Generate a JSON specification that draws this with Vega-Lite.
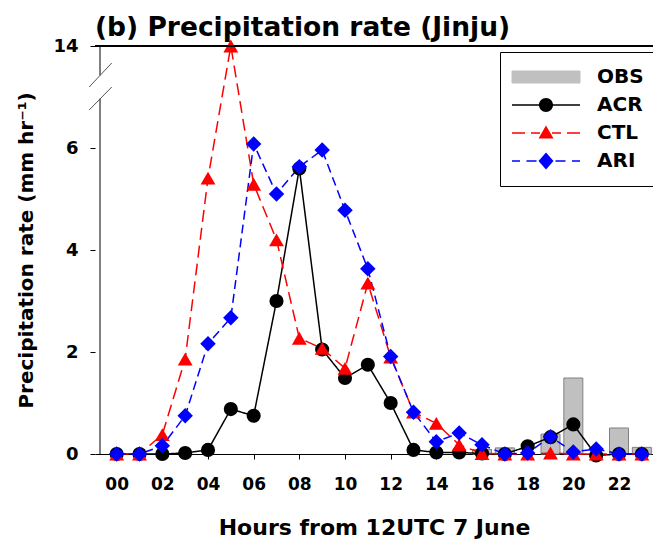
{
  "$schema": "https://vega.github.io/schema/vega-lite/v6.json",
  "autosize": "none",
  "padding": {"left": 95, "top": 46, "right": 0, "bottom": 90},
  "width": 558,
  "height": 408,
  "background": "white",
  "config": {
    "view": {"stroke": null},
    "font": "DejaVu Sans",
    "axis": {"grid": false, "labelFont": "DejaVu Sans", "labelFontWeight": "bold", "labelFontSize": 18, "labelColor": "black", "titleFont": "DejaVu Sans", "titleFontWeight": "bold", "titleFontSize": 20, "titleColor": "black", "tickColor": "black", "domainColor": "black", "tickSize": 5}
  },
  "title": {"text": "(b) Precipitation rate (Jinju)", "anchor": "start", "frame": "group", "font": "DejaVu Sans", "fontSize": 26.5, "fontWeight": "bold", "color": "black", "offset": -4},
  "data": {"values": [
    {"hour": 0, "value": 0, "series": "ACR"}, {"hour": 1, "value": 0, "series": "ACR"}, {"hour": 2, "value": 0, "series": "ACR"}, {"hour": 3, "value": 0.02, "series": "ACR"}, {"hour": 4, "value": 0.08, "series": "ACR"}, {"hour": 5, "value": 0.88, "series": "ACR"}, {"hour": 6, "value": 0.75, "series": "ACR"}, {"hour": 7, "value": 3.0, "series": "ACR"}, {"hour": 8, "value": 5.6, "series": "ACR"}, {"hour": 9, "value": 2.05, "series": "ACR"}, {"hour": 10, "value": 1.49, "series": "ACR"}, {"hour": 11, "value": 1.75, "series": "ACR"}, {"hour": 12, "value": 1.0, "series": "ACR"}, {"hour": 13, "value": 0.08, "series": "ACR"}, {"hour": 14, "value": 0.03, "series": "ACR"}, {"hour": 15, "value": 0.03, "series": "ACR"}, {"hour": 16, "value": 0.01, "series": "ACR"}, {"hour": 17, "value": 0, "series": "ACR"}, {"hour": 18, "value": 0.15, "series": "ACR"}, {"hour": 19, "value": 0.33, "series": "ACR"}, {"hour": 20, "value": 0.58, "series": "ACR"}, {"hour": 21, "value": -0.03, "series": "ACR"}, {"hour": 22, "value": 0, "series": "ACR"}, {"hour": 23, "value": 0, "series": "ACR"},
    {"hour": 0, "value": 0, "series": "CTL"}, {"hour": 1, "value": 0, "series": "CTL"}, {"hour": 2, "value": 0.38, "series": "CTL"}, {"hour": 3, "value": 1.86, "series": "CTL"}, {"hour": 4, "value": 5.41, "series": "CTL"}, {"hour": 5, "value": 14, "series": "CTL"}, {"hour": 6, "value": 5.29, "series": "CTL"}, {"hour": 7, "value": 4.2, "series": "CTL"}, {"hour": 8, "value": 2.27, "series": "CTL"}, {"hour": 9, "value": 2.07, "series": "CTL"}, {"hour": 10, "value": 1.68, "series": "CTL"}, {"hour": 11, "value": 3.35, "series": "CTL"}, {"hour": 12, "value": 1.9, "series": "CTL"}, {"hour": 13, "value": 0.82, "series": "CTL"}, {"hour": 14, "value": 0.6, "series": "CTL"}, {"hour": 15, "value": 0.18, "series": "CTL"}, {"hour": 16, "value": 0.01, "series": "CTL"}, {"hour": 17, "value": 0, "series": "CTL"}, {"hour": 18, "value": 0, "series": "CTL"}, {"hour": 19, "value": 0.02, "series": "CTL"}, {"hour": 20, "value": 0, "series": "CTL"}, {"hour": 21, "value": 0, "series": "CTL"}, {"hour": 22, "value": 0, "series": "CTL"}, {"hour": 23, "value": 0, "series": "CTL"},
    {"hour": 0, "value": 0, "series": "ARI"}, {"hour": 1, "value": 0, "series": "ARI"}, {"hour": 2, "value": 0.16, "series": "ARI"}, {"hour": 3, "value": 0.75, "series": "ARI"}, {"hour": 4, "value": 2.16, "series": "ARI"}, {"hour": 5, "value": 2.67, "series": "ARI"}, {"hour": 6, "value": 6.08, "series": "ARI"}, {"hour": 7, "value": 5.1, "series": "ARI"}, {"hour": 8, "value": 5.63, "series": "ARI"}, {"hour": 9, "value": 5.96, "series": "ARI"}, {"hour": 10, "value": 4.78, "series": "ARI"}, {"hour": 11, "value": 3.63, "series": "ARI"}, {"hour": 12, "value": 1.91, "series": "ARI"}, {"hour": 13, "value": 0.82, "series": "ARI"}, {"hour": 14, "value": 0.24, "series": "ARI"}, {"hour": 15, "value": 0.41, "series": "ARI"}, {"hour": 16, "value": 0.18, "series": "ARI"}, {"hour": 17, "value": 0, "series": "ARI"}, {"hour": 18, "value": 0.02, "series": "ARI"}, {"hour": 19, "value": 0.34, "series": "ARI"}, {"hour": 20, "value": 0.04, "series": "ARI"}, {"hour": 21, "value": 0.1, "series": "ARI"}, {"hour": 22, "value": 0, "series": "ARI"}, {"hour": 23, "value": 0, "series": "ARI"},
    {"hour": 16, "value": 0.09, "series": "OBS"}, {"hour": 17, "value": 0.12, "series": "OBS"}, {"hour": 19, "value": 0.39, "series": "OBS"}, {"hour": 20, "value": 1.49, "series": "OBS"}, {"hour": 22, "value": 0.51, "series": "OBS"}, {"hour": 23, "value": 0.13, "series": "OBS"}
  ]},
  "layer": [
    {
      "transform": [{"filter": "datum.series === 'OBS'"}],
      "mark": {"type": "bar", "width": 19, "stroke": "#808080", "strokeWidth": 1},
      "encoding": {
        "x": {"field": "hour", "type": "quantitative", "scale": {"domain": [-0.73, 23.27], "nice": false, "zero": false},
          "axis": {"values": [0, 2, 4, 6, 8, 10, 12, 14, 16, 18, 20, 22], "labelExpr": "datum.value < 10 ? '0' + datum.value : '' + datum.value", "labelFontSize": 17, "labelPadding": 17, "title": "Hours from 12UTC 7 June", "titleFontSize": 22, "titlePadding": 25}},
        "y": {"field": "value", "type": "quantitative", "scale": {"domain": [0, 7, 14], "range": [408, 51, 0], "nice": false, "zero": false},
          "axis": {"values": [0, 2, 4, 6, 14], "domain": false, "labelPadding": 12, "title": "Precipitation rate (mm hr⁻¹)", "titlePadding": 16}},
        "color": {"field": "series", "type": "nominal",
          "scale": {"domain": ["OBS", "ACR", "CTL", "ARI"], "range": ["#c0c0c0", "#000000", "#ff0000", "#0000ff"]},
          "legend": {
            "orient": "none", "legendX": 405, "legendY": 6, "title": null,
            "strokeColor": "black", "fillColor": "white", "cornerRadius": 0, "padding": 15,
            "symbolSize": 100, "symbolOffset": 21, "labelOffset": 41, "rowPadding": 8,
            "labelFont": "DejaVu Sans", "labelFontWeight": "bold", "labelFontSize": 20, "labelColor": "black",
            "labelExpr": "datum.label + '      '",
            "encoding": {"symbols": {
              "shape": {"value": {"expr": "datum.value === 'OBS' ? 'M-6.8,-1.2H6.8V1.2H-6.8Z' : datum.value === 'ACR' ? 'M-6.8,-0.15H6.8V0.15H-6.8Z M1.4,0A1.4,1.4 0 1,1 -1.4,0A1.4,1.4 0 1,1 1.4,0Z' : datum.value === 'CTL' ? 'M-6.8,-0.15H-4.2V0.15H-6.8Z M-3,-0.15H-1.2V0.15H-3Z M0,-1.5L1.5,1.1L-1.5,1.1Z M1.2,-0.15H3V0.15H1.2Z M4.2,-0.15H6.8V0.15H4.2Z' : 'M-6.8,-0.15H-5.2V0.15H-6.8Z M-3.9,-0.15H-1.9V0.15H-3.9Z M0,-1.7L1.5,0L0,1.7L-1.5,0Z M1.9,-0.15H3.9V0.15H1.9Z M5.2,-0.15H6.8V0.15H5.2Z'"}},
              "fill": {"value": {"expr": "datum.value === 'OBS' ? '#c0c0c0' : datum.value === 'ACR' ? '#000000' : datum.value === 'CTL' ? '#ff0000' : '#0000ff'"}},
              "fillOpacity": {"value": 1},
              "opacity": {"value": 1},
              "stroke": {"value": {"expr": "datum.value === 'OBS' ? '#808080' : null"}},
              "strokeWidth": {"value": {"expr": "datum.value === 'OBS' ? 1 : 0"}},
              "strokeDash": {"value": null}
            }}
          }
        }
      }
    },
    {
      "transform": [{"filter": "datum.series !== 'OBS'"}],
      "mark": {"type": "line", "strokeWidth": 1.5},
      "encoding": {
        "x": {"field": "hour", "type": "quantitative"},
        "y": {"field": "value", "type": "quantitative"},
        "color": {"field": "series", "type": "nominal"},
        "strokeDash": {"field": "series", "type": "nominal", "scale": {"domain": ["ACR", "CTL", "ARI"], "range": [[1, 0], [12, 6], [9, 5]]}, "legend": null}
      }
    },
    {
      "transform": [{"filter": "datum.series !== 'OBS'"}],
      "mark": {"type": "point", "filled": true, "opacity": 1},
      "encoding": {
        "x": {"field": "hour", "type": "quantitative"},
        "y": {"field": "value", "type": "quantitative"},
        "color": {"field": "series", "type": "nominal"},
        "shape": {"field": "series", "type": "nominal", "scale": {"domain": ["ACR", "CTL", "ARI"], "range": ["circle", "triangle-up", "diamond"]}, "legend": null},
        "size": {"field": "series", "type": "nominal", "scale": {"domain": ["ACR", "CTL", "ARI"], "range": [200, 240, 290]}, "legend": null}
      }
    },
    {
      "data": {"values": [{"y0": 0, "y1": 6.97}, {"y0": 9.95, "y1": 14}]},
      "mark": {"type": "rule", "color": "black", "strokeWidth": 1},
      "encoding": {
        "x": {"datum": -0.73, "type": "quantitative"},
        "y": {"field": "y0", "type": "quantitative"},
        "y2": {"field": "y1"}
      }
    },
    {
      "data": {"values": [{"x0": -1.204, "y0": 8.37, "x1": -0.215, "y1": 11.67}, {"x0": -1.204, "y0": 6.745, "x1": -0.215, "y1": 8.37}]},
      "mark": {"type": "rule", "color": "#555555", "strokeWidth": 1},
      "encoding": {
        "x": {"field": "x0", "type": "quantitative"},
        "x2": {"field": "x1"},
        "y": {"field": "y0", "type": "quantitative"},
        "y2": {"field": "y1"}
      }
    },
    {
      "mark": {"type": "rule", "color": "black", "strokeWidth": 1},
      "encoding": {"y": {"datum": 14, "type": "quantitative"}}
    }
  ]
}
